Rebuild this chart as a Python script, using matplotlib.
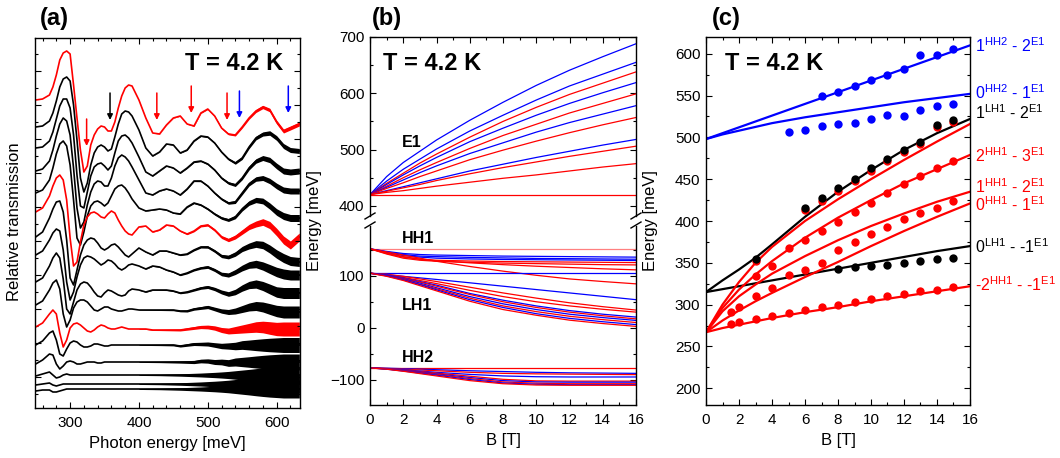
import numpy as np
import matplotlib
matplotlib.use("Agg")
import matplotlib.pyplot as plt
from matplotlib.ticker import MultipleLocator
from matplotlib.lines import Line2D
from matplotlib.transforms import blended_transform_factory

plt.rcParams['font.family'] = ['Liberation Sans', 'DejaVu Sans']
plt.rcParams['mathtext.fontset'] = 'custom'
plt.rcParams['mathtext.rm'] = 'Liberation Sans'
plt.rcParams['mathtext.it'] = 'Liberation Sans:italic'
plt.rcParams['mathtext.bf'] = 'Liberation Sans:bold'

RED = '#ff0000'
BLUE = '#0000ff'
PINK = '#ff8080'

# ---------------- (a) transmission spectra (offset, arb. units, axis inverted) ----------------
photon_energy = [250, 260, 270, 275, 280, 285, 290, 295, 300, 305, 310, 315, 320, 325, 330, 335,
                 340, 345, 350, 355, 360, 365, 370, 375, 380, 385, 390, 400, 410, 420, 430, 440,
                 450, 460, 470, 480, 490, 500, 510, 520, 530, 540, 550, 560, 570, 580, 590, 600,
                 610, 620, 633]

spec_00 = [100, 99, 95, 87, 75, 60, 53, 51, 54, 85, 118, 150, 172, 166, 145, 135, 129, 126, 127, 131,
           131, 122, 108, 96, 88, 85, 86, 100, 118, 133, 134, 125, 118, 116, 124, 126, 113, 109, 116,
           128, 134, 135, 127, 118, 111, 107, 110, 122, 131, 128, 124]
spec_01 = [127, 126, 121, 113, 101, 87, 79, 77, 81, 105, 140, 178, 192, 183, 165, 153, 147, 145, 147,
           151, 149, 137, 124, 114, 111, 112, 116, 130, 148, 156, 152, 144, 145, 153, 150, 141, 136,
           137, 143, 152, 159, 163, 158, 147, 138, 134, 133, 138, 146, 150, 151]
spec_02 = [148, 147, 141, 132, 119, 106, 99, 99, 108, 135, 175, 206, 208, 192, 176, 167, 164, 163, 166,
           170, 166, 153, 141, 136, 135, 138, 143, 157, 172, 176, 171, 166, 168, 173, 168, 162, 161,
           164, 170, 178, 183, 185, 178, 168, 161, 158, 160, 166, 171, 172, 171]
spec_03 = [171, 169, 161, 150, 136, 124, 118, 121, 135, 168, 208, 228, 222, 205, 192, 184, 181, 182, 186,
           186, 178, 166, 158, 155, 157, 161, 167, 180, 193, 195, 191, 189, 191, 195, 189, 181, 181,
           186, 193, 199, 203, 202, 193, 184, 179, 178, 181, 186, 190, 191, 191]
spec_04 = [193, 190, 180, 168, 154, 144, 141, 146, 165, 200, 238, 245, 232, 216, 206, 202, 201, 203, 206,
           203, 196, 189, 186, 185, 188, 193, 199, 208, 211, 210, 209, 210, 213, 214, 207, 203, 205,
           209, 214, 218, 220, 217, 209, 203, 200, 201, 206, 212, 216, 218, 218]
spec_05 = [212, 208, 196, 186, 178, 175, 180, 200, 238, 266, 262, 242, 225, 217, 213, 212, 214, 217, 218,
           214, 211, 213, 220, 226, 231, 234, 235, 227, 226, 232, 230, 225, 226, 231, 234, 231, 226,
           225, 230, 237, 240, 237, 232, 227, 224, 222, 225, 232, 240, 245, 237]
spec_06 = [237, 232, 218, 209, 202, 201, 212, 240, 278, 285, 270, 255, 245, 240, 238, 239, 243, 248, 250,
           248, 245, 244, 247, 251, 255, 257, 254, 248, 252, 255, 251, 251, 253, 255, 254, 250, 247,
           247, 251, 256, 257, 254, 249, 246, 244, 245, 249, 254, 258, 261, 262]
spec_07 = [255, 251, 240, 233, 229, 231, 250, 282, 300, 292, 277, 265, 258, 256, 257, 259, 262, 265, 263,
           260, 261, 264, 268, 270, 268, 265, 264, 266, 269, 266, 267, 270, 272, 275, 273, 270, 268,
           267, 270, 274, 275, 272, 268, 265, 264, 266, 269, 272, 274, 275, 275]
spec_08 = [282, 278, 266, 258, 253, 258, 279, 309, 314, 302, 290, 284, 282, 283, 287, 292, 296, 297, 293,
           290, 291, 293, 295, 296, 295, 291, 289, 290, 292, 290, 290, 290, 291, 293, 292, 290, 288,
           287, 289, 292, 294, 292, 288, 285, 284, 286, 289, 292, 293, 293, 293]
spec_09 = [305, 301, 290, 283, 280, 289, 314, 327, 320, 308, 302, 300, 300, 302, 306, 310, 311, 309, 307,
           307, 309, 310, 311, 311, 310, 309, 309, 310, 310, 310, 310, 310, 310, 311, 311, 309, 308,
           307, 309, 311, 312, 311, 309, 307, 306, 307, 309, 311, 312, 312, 312]
spec_10 = [327, 323, 314, 310, 314, 333, 347, 340, 328, 324, 323, 325, 328, 331, 332, 330, 327, 325, 326,
           328, 329, 329, 328, 327, 328, 329, 329, 329, 329, 330, 330, 330, 330, 330, 329, 328, 327,
           327, 328, 330, 331, 330, 329, 328, 327, 327, 328, 329, 329, 329, 329]
spec_11 = [345, 341, 333, 331, 340, 354, 356, 349, 343, 341, 342, 345, 347, 347, 346, 344, 344, 345, 346,
           346, 345, 345, 345, 345, 345, 345, 345, 345, 345, 345, 345, 345, 345, 346, 345, 344, 344,
           344, 345, 346, 346, 346, 345, 345, 345, 345, 345, 345, 345, 345, 345]
spec_12 = [364, 360, 354, 355, 364, 369, 366, 362, 361, 362, 364, 364, 363, 362, 362, 362, 363, 363, 362,
           362, 362, 362, 362, 362, 362, 362, 362, 362, 362, 362, 362, 362, 362, 362, 362, 362, 361,
           361, 362, 362, 363, 362, 362, 362, 362, 362, 362, 362, 362, 362, 362]
spec_13 = [376, 374, 372, 375, 378, 377, 375, 374, 375, 375, 375, 375, 375, 375, 375, 375, 375, 375, 375,
           375, 375, 375, 375, 375, 375, 375, 375, 375, 375, 375, 375, 375, 375, 375, 375, 375, 375,
           375, 375, 375, 375, 375, 375, 375, 375, 375, 375, 375, 375, 375, 375]
spec_14 = [385, 384, 383, 385, 386, 385, 384, 384, 384, 384, 384, 384, 384, 384, 384, 384, 384, 384, 384,
           384, 384, 384, 384, 384, 384, 384, 384, 384, 384, 384, 384, 384, 384, 384, 384, 384, 384,
           384, 384, 384, 384, 384, 384, 384, 384, 384, 384, 384, 384, 384, 384]
spec_15 = [391, 390, 390, 392, 392, 391, 390, 389, 389, 389, 389, 389, 389, 389, 389, 389, 389, 389, 389,
           389, 389, 389, 389, 389, 389, 389, 389, 389, 389, 389, 389, 389, 389, 389, 389, 389, 389,
           389, 389, 389, 389, 389, 389, 389, 389, 389, 389, 389, 389, 389, 389]

red_spectra = [0, 5, 10]
# noise envelope above 400 meV (relative profile) and its size per spectrum
noise_start = 27
noise_profile = [0.05, 0.06, 0.07, 0.08, 0.10, 0.12, 0.14, 0.17, 0.20, 0.23, 0.27, 0.31, 0.36, 0.42,
                 0.50, 0.58, 0.66, 0.75, 0.83, 0.90, 0.95, 1.00, 1.00, 1.00]
noise_scale = [2, 2.5, 3, 3, 3.5, 4, 4.5, 5, 5.5, 6, 7, 7.5, 8, 8.5, 9, 9]

arrow_energy = [324, 358, 426, 476, 528, 546, 617]
arrow_top = [119, 93, 93, 86, 93, 91, 86]
arrow_bottom = [146, 120, 120, 113, 120, 118, 113]
arrow_colors = [RED, 'black', RED, RED, RED, BLUE, BLUE]

# ---------------- (b) Landau levels ----------------
field = [0, 1, 2, 3, 4, 6, 8, 10, 12, 14, 16]

e1_a = [420, 452, 477, 497, 517, 552, 584, 614, 641, 665, 688]
e1_b = [420, 444, 465, 483, 501, 533, 561, 588, 613, 634, 655]
e1_c = [420, 440, 458, 476, 492, 522, 550, 575, 598, 618, 638]
e1_d = [420, 438, 455, 471, 486, 514, 538, 561, 582, 601, 619]
e1_e = [420, 435, 450, 464, 477, 502, 525, 545, 565, 582, 599]
e1_f = [420, 433, 446, 459, 471, 493, 512, 531, 548, 563, 578]
e1_g = [420, 431, 441, 452, 462, 482, 499, 515, 530, 544, 557]
e1_h = [420, 427, 434, 441, 448, 462, 474, 486, 497, 508, 518]
e1_i = [420, 426, 432, 438, 445, 457, 468, 478, 488, 497, 506]
e1_j = [420, 424, 427, 431, 435, 442, 449, 455, 462, 469, 475]
e1_k = [420, 420, 420, 420, 420, 420, 420, 420, 420, 420, 420]
e1_colors = [BLUE, BLUE, RED, BLUE, RED, BLUE, RED, BLUE, RED, RED, RED]

hh1_a = [152, 152, 152, 152, 152, 152, 152, 152, 152, 152, 152]
hh1_b = [152, 147, 143, 141, 140, 139, 138, 137.5, 137, 136.5, 136]
hh1_c = [152, 146, 141, 138, 137, 135.5, 134.5, 133.5, 133, 132.5, 132]
hh1_d = [152, 145, 139, 136, 134, 132.5, 131.5, 131, 130.5, 130, 129.5]
hh1_e = [152, 143, 136, 132, 130, 128.5, 127.5, 127, 126.5, 126, 125.5]
hh1_f = [152, 142, 134, 130, 128, 126, 124.5, 123.5, 122.5, 121.5, 121]
hh1_g = [152, 144, 137, 132, 129, 125, 121.5, 118.5, 116, 113.5, 111.5]
hh1_h = [152, 146, 140, 134, 128, 118, 109, 101, 94, 89, 84.5]
hh1_colors = [PINK, BLUE, BLUE, BLUE, RED, RED, RED, RED]

lh1_a = [105, 105, 105, 105, 105, 105, 105, 105, 105, 105, 105]
lh1_b = [105, 102, 99, 96, 93, 86.5, 80, 73.5, 67, 60.5, 54]
lh1_c = [105, 103, 99, 94, 89, 78, 67, 57, 48, 40.5, 34]
lh1_d = [105, 102, 97, 91, 85, 72, 60, 50, 42, 35.5, 30]
lh1_e = [105, 102, 96, 89, 82, 66, 53, 42, 33, 26, 20.5]
lh1_f = [105, 101, 95, 88, 80, 64, 50, 39, 30, 23, 17]
lh1_g = [105, 101, 94, 86, 77, 60, 46, 35, 26, 19.5, 14]
lh1_h = [105, 100, 93, 84, 75, 57, 42, 31, 22, 15.5, 10]
lh1_i = [105, 100, 92, 83, 73, 54, 39, 27, 18, 11.5, 6]
lh1_j = [105, 99, 91, 81, 71, 51, 35, 24, 14.5, 8, 2.5]
lh1_colors = [BLUE, BLUE, RED, RED, BLUE, RED, BLUE, RED, BLUE, RED]

hh2_a = [-77.5, -77.5, -77.5, -77.5, -77.5, -77.5, -77.5, -77.5, -77.5, -77.5, -77.5]
hh2_b = [-77.5, -78, -79, -80, -81, -83, -84.5, -86, -87, -87.5, -88]
hh2_c = [-77.5, -78.5, -80, -81.5, -83, -86, -88, -89, -89.5, -90, -90.5]
hh2_d = [-77.5, -79, -81, -83.5, -86, -90, -93, -94.5, -95, -95, -95]
hh2_e = [-77.5, -79, -82, -84.5, -87.5, -93.5, -99.5, -102.5, -103, -103, -103]
hh2_f = [-77.5, -79.5, -82.5, -85.5, -89, -96, -102, -104.5, -105, -105, -105]
hh2_g = [-77.5, -79.5, -83, -86.5, -90, -98, -104.5, -107, -108, -108, -108]
hh2_h = [-77.5, -80, -83.5, -87.5, -91.5, -100, -106.5, -109, -110, -110, -110]
hh2_i = [-77.5, -80, -84, -88.5, -93, -102, -108, -110.5, -111, -111, -111]
hh2_colors = [RED, BLUE, RED, BLUE, RED, BLUE, RED, BLUE, RED]

# ---------------- (c) transitions: fits and data ----------------
fit_1hh2_2e1 = [498, 505, 512, 519, 526, 540, 554, 568, 582, 596, 610]
fit_0hh2_1e1 = [498, 503.5, 508, 512.5, 517, 524, 530, 536, 542, 547, 552]
fit_1lh1_2e1 = [315, 329, 342, 356, 372, 405, 435, 461, 485, 505, 522]
fit_0lh1_m1e1 = [315, 318.5, 322, 325.5, 329, 336, 343, 350, 357, 364, 370]
fit_red_1 = [267, 300, 327, 350, 369, 400, 426, 450, 473, 495, 516]
fit_red_2 = [267, 296, 318, 336, 352, 380, 404, 425, 445, 462, 479]
fit_red_3 = [267, 292, 310, 324, 337, 358, 377, 394, 409, 423, 435]
fit_red_4 = [267, 281, 293, 304, 314, 333, 351, 370, 388, 405, 421]
fit_red_5 = [267, 272, 276, 280, 284, 291, 297, 304, 310, 316, 322]

b_blue_top = [7, 8, 9, 10, 11, 12, 13, 14, 15]
e_blue_top = [549, 554, 561, 569, 575, 582, 599, 599, 606]
b_blue_low = [5, 6, 7, 8, 9, 10, 11, 12, 13, 14, 15]
e_blue_low = [507, 509, 513, 516.5, 517, 522, 527, 526, 533, 538, 540]
b_black_top = [3, 6, 7, 8, 9, 10, 11, 12, 13, 14, 15]
e_black_top = [355, 416, 427, 439, 450.5, 463, 474.5, 485, 495, 515, 521]
e_red_under = [352, 413, 424, 436, 447.5, 460, 471.5, 482, 492, 512, 518]
b_black_low = [8, 9, 10, 11, 12, 13, 14, 15]
e_black_low = [343, 345, 346, 347.5, 350, 352, 354, 355.5]
b_red_1 = [3, 4, 5, 6, 7, 8, 9, 10, 11, 12, 13, 14, 15]
e_red_1 = [334, 346, 367.5, 377.5, 388.5, 399, 410.5, 422, 433.5, 444.5, 453.5, 463, 471.5]
b_red_2 = [1.5, 2, 3, 4, 5, 6, 7, 8, 9, 10, 11, 12, 13, 14, 15]
e_red_2 = [291, 297, 310, 320, 336, 341, 350, 365, 375, 384, 393, 402, 410, 416, 424]
b_red_3 = [1.5, 2, 3, 4, 5, 6, 7, 8, 9, 10, 11, 12, 13, 14, 15]
e_red_3 = [277, 279, 283, 287, 290, 294, 297, 300, 303, 307, 310, 313, 316, 318, 321]

transition_labels = [r'1$^{\rm HH2}$ - 2$^{\rm E1}$', r'0$^{\rm HH2}$ - 1$^{\rm E1}$',
                     r'1$^{\rm LH1}$ - 2$^{\rm E1}$', r'2$^{\rm HH1}$ - 3$^{\rm E1}$',
                     r'1$^{\rm HH1}$ - 2$^{\rm E1}$', r'0$^{\rm HH1}$ - 1$^{\rm E1}$',
                     r'0$^{\rm LH1}$ - -1$^{\rm E1}$', r'-2$^{\rm HH1}$ - -1$^{\rm E1}$']
transition_label_y = [609.5, 553.5, 530, 478, 441.5, 420, 369, 324]
transition_colors = [BLUE, BLUE, 'black', RED, RED, RED, 'black', RED]

# ---------------- figure ----------------
W, H = 1060, 458
fig = plt.figure(figsize=(W / 100, H / 100), dpi=100)


def box(x0, y0, x1, y1):
    # pixel box (top-left origin) -> figure fraction rect
    return [x0 / W, 1 - y1 / H, (x1 - x0) / W, (y1 - y0) / H]


def style(ax, xmaj, xmin, ymaj, ymin):
    ax.xaxis.set_major_locator(MultipleLocator(xmaj))
    ax.xaxis.set_minor_locator(MultipleLocator(xmin))
    ax.yaxis.set_major_locator(ymaj)
    ax.yaxis.set_minor_locator(ymin)
    ax.tick_params(which='both', direction='in', top=True, right=True, labelsize=11, width=0.8)
    ax.tick_params(which='major', length=4.5)
    ax.tick_params(which='minor', length=2.5)
    ax.tick_params(axis='x', pad=6)
    ax.tick_params(axis='y', pad=4)
    for s in ax.spines.values():
        s.set_linewidth(1.0)


# (a)
ax_a = fig.add_axes(box(35, 38, 300, 408))
specs = [spec_00, spec_01, spec_02, spec_03, spec_04, spec_05, spec_06, spec_07,
         spec_08, spec_09, spec_10, spec_11, spec_12, spec_13, spec_14, spec_15]
e_noise = np.array(photon_energy[noise_start:])
for i, s in enumerate(specs):
    c = RED if i in red_spectra else 'black'
    s = np.array(s, dtype=float)
    amp = noise_scale[i] * np.array(noise_profile)
    ax_a.fill_between(e_noise, s[noise_start:] - amp, s[noise_start:] + amp, color=c, lw=0)
    ax_a.plot(photon_energy, s, color=c, lw=1.2)
for e, t, b, c in zip(arrow_energy, arrow_top, arrow_bottom, arrow_colors):
    ax_a.annotate('', xy=(e, b), xytext=(e, t),
                  arrowprops=dict(arrowstyle='-|>', color=c, lw=1.1, mutation_scale=8,
                                  shrinkA=0, shrinkB=0))
ax_a.set_xlim(249, 634)
ax_a.set_ylim(408, 38)
style(ax_a, 100, 20, MultipleLocator(34, offset=3), MultipleLocator(17, offset=3))
ax_a.tick_params(axis='y', labelleft=False)
ax_a.set_xlabel('Photon energy [meV]', fontsize=12, labelpad=4)

# (b) broken axis
ax_b1 = fig.add_axes(box(370, 37, 636, 216))
ax_b2 = fig.add_axes(box(370, 226, 636, 405))
for lev, c in zip([e1_a, e1_b, e1_c, e1_d, e1_e, e1_f, e1_g, e1_h, e1_i, e1_j, e1_k], e1_colors):
    ax_b1.plot(field, lev, color=c, lw=0.9)
for group, cols in [([hh1_a, hh1_b, hh1_c, hh1_d, hh1_e, hh1_f, hh1_g, hh1_h], hh1_colors),
                    ([lh1_a, lh1_b, lh1_c, lh1_d, lh1_e, lh1_f, lh1_g, lh1_h, lh1_i, lh1_j], lh1_colors),
                    ([hh2_a, hh2_b, hh2_c, hh2_d, hh2_e, hh2_f, hh2_g, hh2_h, hh2_i], hh2_colors)]:
    for lev, c in zip(group, cols):
        ax_b2.plot(field, lev, color=c, lw=0.9)
ax_b1.set_xlim(0, 16)
ax_b2.set_xlim(0, 16)
ax_b1.set_ylim(382, 700)
ax_b2.set_ylim(-149, 196)
style(ax_b1, 2, 1, MultipleLocator(100), MultipleLocator(50))
style(ax_b2, 2, 1, MultipleLocator(100), MultipleLocator(50))
ax_b1.spines['bottom'].set_visible(False)
ax_b1.tick_params(which='both', bottom=False, labelbottom=False)
ax_b2.spines['top'].set_visible(False)
ax_b2.tick_params(which='both', top=False)
ax_b2.set_xlabel('B [T]', fontsize=12, labelpad=4)
ax_b1.text(1.9, 512, 'E1', fontsize=11.5, fontweight='bold', va='center')
ax_b2.text(1.9, 171, 'HH1', fontsize=11.5, fontweight='bold', va='center')
ax_b2.text(1.9, 42, 'LH1', fontsize=11.5, fontweight='bold', va='center')
ax_b2.text(1.9, -57, 'HH2', fontsize=11.5, fontweight='bold', va='center')
for xs in (370, 636):
    for yc in (216, 225):
        fig.add_artist(Line2D([(xs - 5) / W, (xs + 5) / W], [1 - (yc + 3) / H, 1 - (yc - 3) / H],
                              color='black', lw=1.0))

# (c)
ax_c = fig.add_axes(box(706, 37, 970, 405))
ax_c.plot(field, fit_1hh2_2e1, color=BLUE, lw=1.6)
ax_c.plot(field, fit_0hh2_1e1, color=BLUE, lw=1.6)
ax_c.plot(field, fit_1lh1_2e1, color='black', lw=1.6)
ax_c.plot(field, fit_0lh1_m1e1, color='black', lw=1.6)
for f in (fit_red_1, fit_red_2, fit_red_3, fit_red_4, fit_red_5):
    ax_c.plot(field, f, color=RED, lw=1.6)
mk = dict(marker='o', ls='none', ms=6, mew=0)
ax_c.plot(b_blue_top, e_blue_top, color=BLUE, **mk)
ax_c.plot(b_blue_low, e_blue_low, color=BLUE, **mk)
ax_c.plot(b_red_1, e_red_1, color=RED, **mk)
ax_c.plot(b_red_2, e_red_2, color=RED, **mk)
ax_c.plot(b_red_3, e_red_3, color=RED, **mk)
ax_c.plot(b_black_top, e_red_under, color=RED, **mk)
ax_c.plot(b_black_top, e_black_top, color='black', **mk)
ax_c.plot(b_black_low, e_black_low, color='black', **mk)
ax_c.set_xlim(0, 16)
ax_c.set_ylim(180, 620)
style(ax_c, 2, 1, MultipleLocator(50), MultipleLocator(25))
ax_c.set_xlabel('B [T]', fontsize=12, labelpad=4)
tr = blended_transform_factory(ax_c.transAxes, ax_c.transData)
for lab, y, c in zip(transition_labels, transition_label_y, transition_colors):
    ax_c.text(1.02, y, lab, transform=tr, color=c, fontsize=11.5, va='center', ha='left',
              clip_on=False)

# shared texts
for x in (185, 383, 725):
    fig.text(x / W, 1 - 64 / H, 'T = 4.2 K', fontsize=17, fontweight='bold', va='center', ha='left')
for x, lab in ((40, '(a)'), (372, '(b)'), (712, '(c)')):
    fig.text(x / W, 1 - 19 / H, lab, fontsize=17, fontweight='bold', va='center', ha='left')
fig.text(15 / W, 1 - 222 / H, 'Relative transmission', fontsize=12, rotation=90,
         va='center', ha='center')
fig.text(314 / W, 1 - 221 / H, 'Energy [meV]', fontsize=12, rotation=90, va='center', ha='center')
fig.text(651 / W, 1 - 221 / H, 'Energy [meV]', fontsize=12, rotation=90, va='center', ha='center')

fig.savefig('out.png', dpi=100)
